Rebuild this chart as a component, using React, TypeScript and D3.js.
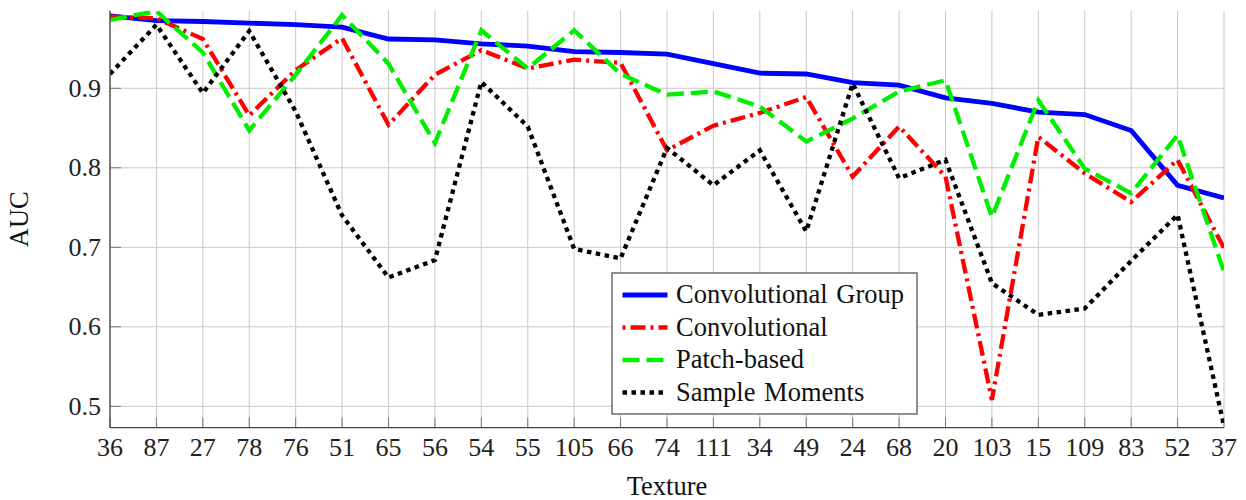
import React from "react";
import * as d3 from "d3";

const categories = ["36","87","27","78","76","51","65","56","54","55","105","66","74","111","34","49","24","68","20","103","15","109","83","52","37"];
const convGroup = [0.991, 0.985, 0.984, 0.982, 0.980, 0.977, 0.962, 0.961, 0.956, 0.953, 0.946, 0.945, 0.943, 0.931, 0.919, 0.918, 0.907, 0.904, 0.888, 0.881, 0.870, 0.867, 0.847, 0.778, 0.762];
const conv = [0.990, 0.988, 0.962, 0.866, 0.923, 0.963, 0.854, 0.917, 0.948, 0.925, 0.936, 0.932, 0.822, 0.853, 0.869, 0.889, 0.789, 0.852, 0.789, 0.508, 0.839, 0.793, 0.757, 0.810, 0.699];
const patch = [0.986, 0.997, 0.945, 0.847, 0.917, 0.992, 0.931, 0.831, 0.973, 0.925, 0.973, 0.918, 0.892, 0.896, 0.877, 0.833, 0.862, 0.896, 0.910, 0.738, 0.885, 0.799, 0.768, 0.841, 0.669];
const moments = [0.918, 0.980, 0.894, 0.972, 0.871, 0.740, 0.662, 0.684, 0.908, 0.852, 0.698, 0.686, 0.825, 0.778, 0.822, 0.720, 0.906, 0.787, 0.810, 0.655, 0.615, 0.623, 0.683, 0.741, 0.475];
const yTicks = [0.5, 0.6, 0.7, 0.8, 0.9];
const seriesNames = ["Convolutional Group", "Convolutional", "Patch-based", "Sample Moments"];

const W = 1246, H = 500;
const L = 110, R = 1224, T = 10.7, B = 427.7;
const FONT = "'Liberation Serif', 'Times New Roman', serif";

export default function App() {
  const x = d3.scalePoint<string>().domain(categories).range([L, R]);
  const y = d3.scaleLinear().domain([0.4731, 0.9976]).range([B, T]);
  const line = d3.line<number>().x((_, i) => x(categories[i]) as number).y((d) => y(d));

  const styles = [
    { data: convGroup, color: "#0000ff", width: 4.8, dash: "none" },
    { data: conv, color: "#ff0000", width: 4.3, dash: "15 5 3 5" },
    { data: patch, color: "#00ee00", width: 4.3, dash: "17 7" },
    { data: moments, color: "#000000", width: 4.3, dash: "4.5 4.5" },
  ];

  const legX = 612, legY = 273, legW = 305, legH = 141;
  const rowY = [295, 327.5, 360, 392.5];

  return (
    <svg width={W} height={H} style={{ position: "absolute", left: 0, top: 0, background: "#fff" }} fontFamily={FONT}>
      <defs>
        <clipPath id="plotclip">
          <rect x={L} y={T} width={R - L} height={B - T} />
        </clipPath>
      </defs>
      {categories.map((c) => (
        <line key={"gx" + c} x1={x(c)} x2={x(c)} y1={T} y2={B} stroke="#c8c8c8" strokeWidth={1} />
      ))}
      {yTicks.map((t) => (
        <line key={"gy" + t} x1={L} x2={R} y1={y(t)} y2={y(t)} stroke="#c8c8c8" strokeWidth={1} />
      ))}
      {categories.map((c) => (
        <line key={"tx" + c} x1={x(c)} x2={x(c)} y1={B} y2={B - 10} stroke="#777" strokeWidth={1} />
      ))}
      {yTicks.map((t) => (
        <line key={"ty" + t} x1={L} x2={L + 11} y1={y(t)} y2={y(t)} stroke="#777" strokeWidth={1} />
      ))}
      <g clipPath="url(#plotclip)">
        {styles.map((s, i) => (
          <path key={"s" + i} d={line(s.data) || ""} fill="none" stroke={s.color} strokeWidth={s.width}
            strokeDasharray={s.dash} strokeLinejoin="miter" strokeLinecap="butt" />
        ))}
      </g>
      <line x1={L} x2={L} y1={T} y2={B} stroke="#444" strokeWidth={1.3} />
      <line x1={L} x2={R} y1={B} y2={B} stroke="#444" strokeWidth={1.3} />
      {categories.map((c) => (
        <text key={"lx" + c} x={x(c)} y={456} textAnchor="middle" fontSize={26} fill="#222">{c}</text>
      ))}
      {yTicks.map((t) => (
        <text key={"ly" + t} x={101} y={y(t) + 8.5} textAnchor="end" fontSize={26} fill="#222">{t.toFixed(1)}</text>
      ))}
      <text x={(L + R) / 2} y={495} textAnchor="middle" fontSize={26.5} fill="#111">Texture</text>
      <text transform={`translate(28, ${(T + B) / 2}) rotate(-90)`} textAnchor="middle" fontSize={26.5} fill="#111">AUC</text>
      <rect x={legX} y={legY} width={legW} height={legH} fill="#fff" stroke="#555" strokeWidth={1.3} />
      {styles.map((s, i) => (
        <g key={"lg" + i}>
          <line x1={622.5} x2={667.5} y1={rowY[i]} y2={rowY[i]} stroke={s.color} strokeWidth={s.width}
            strokeDasharray={i === 1 ? "3 5 15 5" : s.dash} strokeLinecap="butt" />
          <text x={676} y={rowY[i] + 8} fontSize={26.5} wordSpacing={2} fill="#111">{seriesNames[i]}</text>
        </g>
      ))}
    </svg>
  );
}
